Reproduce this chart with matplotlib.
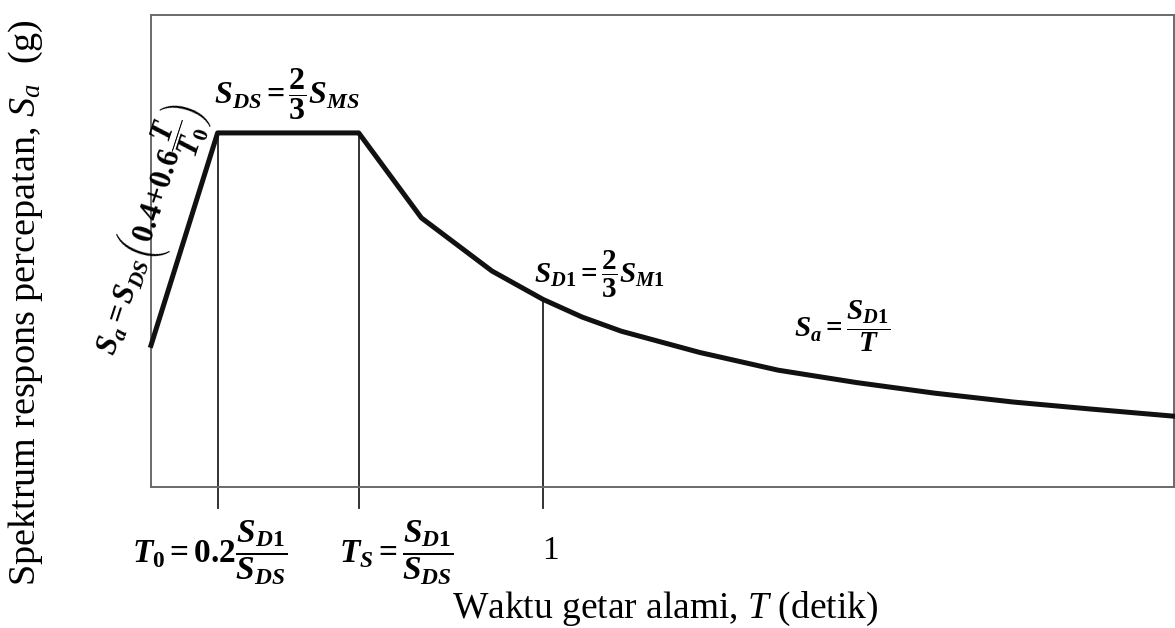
import matplotlib as mpl
mpl.use('Agg')
import matplotlib.pyplot as plt

plt.rcParams['font.family'] = 'Liberation Serif'
plt.rcParams['mathtext.fontset'] = 'custom'
plt.rcParams['mathtext.rm'] = 'Liberation Serif:bold'
plt.rcParams['mathtext.it'] = 'Liberation Serif:italic'
plt.rcParams['mathtext.bf'] = 'Liberation Serif:bold'
plt.rcParams['mathtext.bfit'] = 'Liberation Serif:italic:bold'

# spektrum respons desain (S_DS = 1)
T = [0.0, 0.17, 0.53, 0.69, 0.87, 1.0, 1.1, 1.2, 1.3, 1.4, 1.5, 1.6, 1.8, 2.0, 2.2, 2.4, 2.61]
Sa = [0.40, 1.0, 1.0, 0.76, 0.61, 0.53, 0.48, 0.44, 0.41, 0.38, 0.355, 0.33, 0.295, 0.265, 0.24, 0.22, 0.20]

# periode penting: T0, Ts, 1 detik
T_garis = [0.17, 0.53, 1.0]
Sa_garis = [1.0, 1.0, 0.53]

fig = plt.figure(figsize=(11.75, 6.28), dpi=100)
ax = fig.add_axes([0.1285, 0.2245, 0.8706, 0.7516])
ax.set_xlim(0, 2.61)
ax.set_ylim(0, 1.333)
ax.set_xticks([])
ax.set_yticks([])
for s in ax.spines.values():
    s.set_color('#6a6a6a')
    s.set_linewidth(1.4)

for t, s in zip(T_garis, Sa_garis):
    ax.plot([t, t], [s, -0.06], color='#222222', lw=1.3, clip_on=False, zorder=2)

ax.plot(T, Sa, color='#111111', lw=3.6, solid_joinstyle='round', clip_on=False, zorder=3)


def bf(s):
    return r'\mathbfit{' + s + '}'


S = bf('S')
ax.text(0.347, 1.11, '$' + S + '_{' + bf('DS') + r'}=\dfrac{2}{3}' + S + '_{' + bf('MS') + '}$',
        fontsize=23, ha='center', va='center')
ax.text(-0.005, 0.725, '$' + S + '_{' + bf('a') + '}=' + S + '_{' + bf('DS') +
        r'}\left(0.4\!+\!0.6\dfrac{' + bf('T') + '}{' + bf('T') + r'_{0}}\right)$',
        fontsize=22, ha='center', va='center', rotation=72, clip_on=False)
ax.text(1.145, 0.60, '$' + S + '_{' + bf('D') + r'1}=\dfrac{2}{3}' + S + '_{' + bf('M') + '1}$',
        fontsize=21, ha='center', va='center')
ax.text(1.763, 0.455, '$' + S + '_{' + bf('a') + r'}=\dfrac{' + S + '_{' + bf('D') + '1}}{' + bf('T') + '}$',
        fontsize=21, ha='center', va='center')

# label sumbu-x pada periode penting
ax.text(0.15, -0.185, '$' + bf('T') + r'_{0}=0.2\dfrac{' + S + '_{' + bf('D') + '1}}{' + S + '_{' + bf('DS') + '}}$',
        fontsize=24, ha='center', va='center', clip_on=False)
ax.text(0.625, -0.185, '$' + bf('T') + '_{' + S + r'}=\dfrac{' + S + '_{' + bf('D') + '1}}{' + S + '_{' + bf('DS') + '}}$',
        fontsize=24, ha='center', va='center', clip_on=False)
ax.text(1.02, -0.18, '1', fontsize=24, ha='center', va='center', clip_on=False)

fig.text(0.566, 0.03, r'Waktu getar alami, $T$ (detik)', fontsize=27, ha='center', va='center')
fig.text(0.022, 0.519, r'Spektrum respons percepatan, $S_a$  (g)', fontsize=27.5, ha='center', va='center',
         rotation=90)

fig.savefig('out.png', dpi=100)
